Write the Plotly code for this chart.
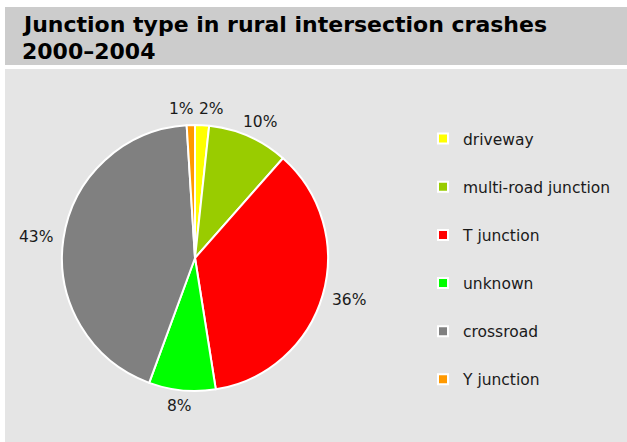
import math
import plotly.graph_objects as go

categories = ["driveway", "multi-road junction", "T junction", "unknown", "crossroad", "Y junction"]
shares = [1.7, 9.8, 36.0, 8.1, 43.4, 1.0]
colors = ["#ffff00", "#99cc00", "#ff0000", "#00ff00", "#808080", "#ff9900"]
title_lines = ["Junction type in rural intersection crashes", "2000\u20132004"]

W, H = 627, 442
FONT = "DejaVu Sans, Verdana, sans-serif"
LABEL_SIZE = 15.5

# pie geometry (pixels)
CX, CY, R = 195, 258, 133
LABEL_GAP = 10

fig = go.Figure()

fig.add_trace(go.Pie(
    labels=categories,
    values=shares,
    sort=False,
    direction="clockwise",
    rotation=0,
    marker=dict(colors=colors, line=dict(color="white", width=2)),
    textinfo="none",
    showlegend=False,
    hoverinfo="label+percent",
    domain=dict(x=[(CX - R) / W, (CX + R) / W],
                y=[(H - CY - R) / H, (H - CY + R) / H]),
))

# percentage labels outside the slices, derived from the data
total = sum(shares)
labels = []
cum = 0.0
for v in shares:
    mid = (cum + v / 2) / total * 2 * math.pi
    cum += v
    txt = f"{round(v / total * 100)}%"
    digits = len(txt) - 1
    w = (0.636 * digits + 0.95) * LABEL_SIZE
    h = 0.75 * LABEL_SIZE
    ux, uy = math.sin(mid), -math.cos(mid)
    px = CX + (R + LABEL_GAP) * ux + (w / 2) * ux
    py = CY + (R + LABEL_GAP) * uy + (h / 2) * uy
    labels.append([px, py, w, h, txt])

# simple horizontal de-overlap
for _ in range(5):
    for i in range(len(labels)):
        for j in range(i + 1, len(labels)):
            a, b = labels[i], labels[j]
            if abs(a[1] - b[1]) < (a[3] + b[3]) / 2:
                need = (a[2] + b[2]) / 2 + 5
                dist = abs(a[0] - b[0])
                if dist < need:
                    push = (need - dist) / 2
                    if a[0] <= b[0]:
                        a[0] -= push
                        b[0] += push
                    else:
                        a[0] += push
                        b[0] -= push

annotations = []
for k, (line, yc) in enumerate(zip(title_lines, [24, 51])):
    annotations.append(dict(
        text="<b>" + line + "</b>", xref="paper", yref="paper",
        x=20 / W, y=1 - yc / H, xanchor="left", yanchor="middle",
        align="left", showarrow=False,
        font=dict(family=FONT, size=22, color="black")))
for px, py, w, h, txt in labels:
    annotations.append(dict(
        text=txt, xref="paper", yref="paper", x=px / W, y=1 - py / H,
        xanchor="center", yanchor="middle", showarrow=False,
        font=dict(family=FONT, size=LABEL_SIZE, color="#1a1a1a")))

for cat, col in zip(categories, colors):
    fig.add_trace(go.Scatter(
        x=[None], y=[None], mode="markers", name=cat,
        legendgroup=cat,
        marker=dict(symbol="square", size=10, color=col,
                    line=dict(color="white", width=2)),
    ))

fig.update_layout(
    width=W, height=H,
    margin=dict(l=0, r=0, t=0, b=0, autoexpand=False),
    paper_bgcolor="white",
    plot_bgcolor="rgba(0,0,0,0)",
    xaxis=dict(visible=False),
    yaxis=dict(visible=False),
    font=dict(family=FONT, size=15.5, color="#1a1a1a"),
    legend=dict(
        x=423 / W, y=1 - 122 / H, xanchor="left", yanchor="top",
        bgcolor="rgba(0,0,0,0)",
        font=dict(family=FONT, size=15.5, color="#1a1a1a"),
        tracegroupgap=25,
        itemwidth=30,
    ),
    shapes=[
        dict(type="rect", xref="paper", yref="paper",
             x0=5 / W, x1=1, y0=1 - 65 / H, y1=1 - 7 / H,
             fillcolor="#cccccc", line=dict(width=0), layer="below"),
        dict(type="rect", xref="paper", yref="paper",
             x0=5 / W, x1=1, y0=0, y1=1 - 69 / H,
             fillcolor="#e5e5e5", line=dict(width=0), layer="below"),
    ],
    annotations=annotations,
)

fig.write_html("out.html",
               config={"displayModeBar": False},
               post_script="document.body.style.margin='0';")
